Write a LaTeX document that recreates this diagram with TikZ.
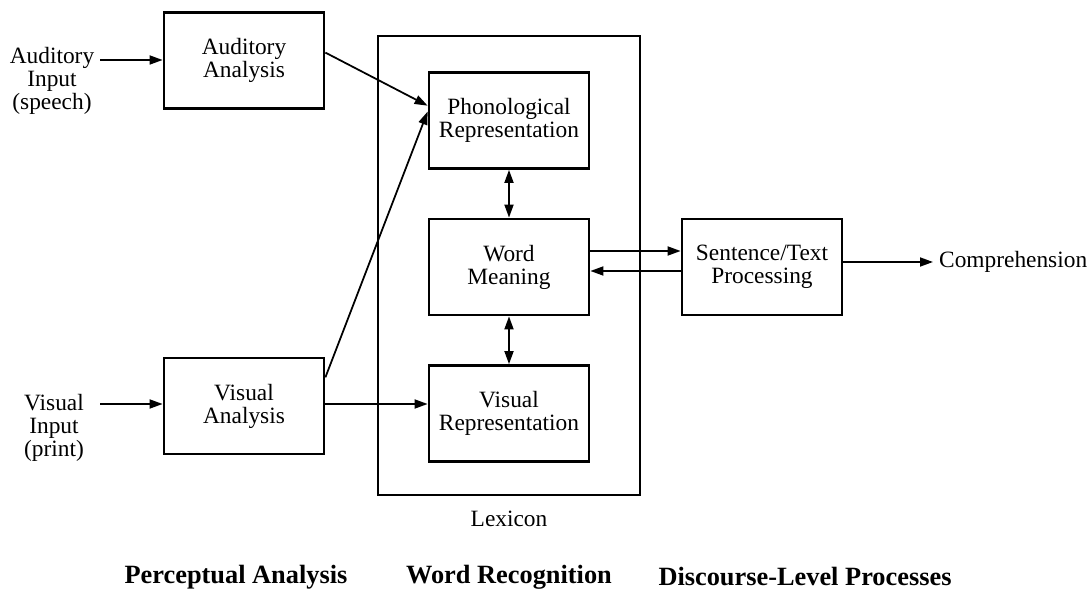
\documentclass[tikz,border=0pt]{standalone}
\usepackage{fontspec}
\setmainfont{Liberation Serif}
\usetikzlibrary{positioning,calc,arrows.meta}

\begin{document}
\begin{tikzpicture}[x=0.02cm, y=-0.02cm,
        font=\fontsize{13.3}{13}\selectfont,
        box/.style={draw, line width=1.6pt, minimum width=3.2cm, minimum height=1.92cm, align=center, inner sep=2pt},
        lbl/.style={align=center, inner sep=3pt},
        arr/.style={-{Triangle[length=2.6mm,width=1.8mm]}, line width=1pt},
        darr/.style={{Triangle[length=2.6mm,width=1.8mm]}-{Triangle[length=2.6mm,width=1.8mm]}, line width=1pt},
        head/.style={font=\fontsize{15}{16}\selectfont\bfseries}]
        \useasboundingbox (0,0) rectangle (1089,597);

        % inputs
        \node [lbl] (audin) at (52,81) {Auditory\\Input\\(speech)};
        \node [lbl] (visin) at (54,428) {Visual\\Input\\(print)};
        \coordinate (audtail) at (100,60);
        \coordinate (vistail) at (100,404);

        % perceptual analysis
        \node [box] (aud) at (244,60.5) {Auditory\\Analysis};
        \node [box] (vis) at (244,406) {Visual\\Analysis};

        % lexicon
        \draw [line width=0.9pt] (378,36) rectangle (640,495);
        \node (lex) at (509,519) {Lexicon};
        \node [box] (phon) at (509,120.5) {Phonological\\Representation};
        \node [box] (mean) at (509,267) {Word\\Meaning};
        \node [box] (vrep) at (509,413.5) {Visual\\Representation};

        % discourse
        \node [box] (sent) at (762,267) {Sentence/Text\\Processing};
        \node [anchor=west] (comp) at (933,262) {Comprehension};

        % connectors
        \draw [arr] (audtail) -- (audtail -| aud.west);
        \draw [arr] (vistail) -- (vistail -| vis.west);
        \draw [arr] ($(aud.north east)!0.42!(aud.south east)$) -- ($(phon.north west)!0.35!(phon.south west)$);
        \draw [arr] ($(vis.north east)!0.21!(vis.south east)$) -- ($(phon.north west)!0.41!(phon.south west)$);
        \draw [arr] (vis.east |- vistail) -- (vistail -| vrep.west);
        \draw [darr] (phon.south) -- (mean.north);
        \draw [darr] (mean.south) -- (vrep.north);
        \draw [arr] ([yshift=0.32cm]mean.east) -- ([yshift=0.32cm]sent.west);
        \draw [arr] ([yshift=-0.08cm]sent.west) -- ([yshift=-0.08cm]mean.east);
        \draw [arr] (sent.east |- comp.west) -- (comp.west);

        % stages
        \node [head] (perc) at (236,577) {Perceptual Analysis};
        \node [head] (wrec) at (509,577) {Word Recognition};
        \node [head] (disc) at (805,577) {Discourse-Level Processes};
    \end{tikzpicture}
\end{document}
